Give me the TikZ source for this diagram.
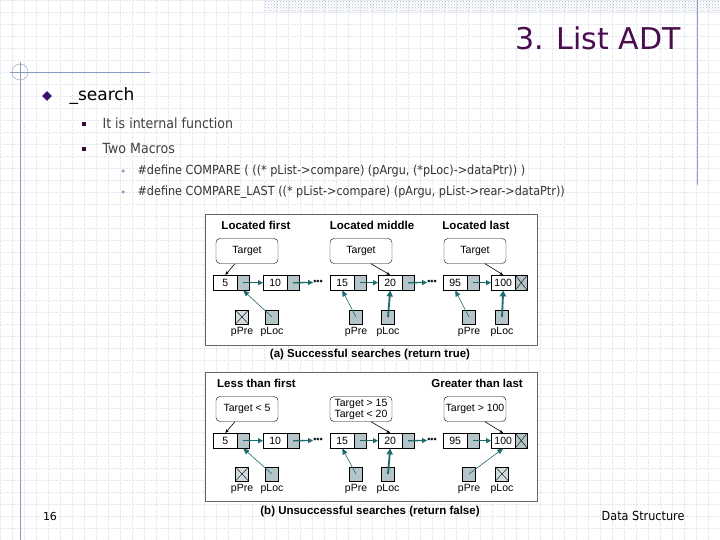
\documentclass[tikz,border=0pt]{standalone}
\usepackage{fontspec}
\setmainfont{DejaVu Sans}
\newfontfamily\figfont{Liberation Sans}
\usetikzlibrary{patterns,arrows.meta}
\definecolor{tealc}{HTML}{1E6B6E}
\definecolor{linkc}{HTML}{B4C4C8}
\definecolor{titlec}{HTML}{4A0E4E}
\definecolor{gridc}{HTML}{E6EAF0}
\definecolor{linec}{HTML}{8A9BC0}
\tikzset{
 dbox/.style={draw,fill=white,minimum width=24pt,minimum height=15pt,inner sep=0,anchor=north west,font=\figfont\fontsize{10.5}{10}\selectfont},
 lbox/.style={draw,fill=linkc,minimum width=12pt,minimum height=15pt,inner sep=0,anchor=north west},
 pbox/.style={draw,fill=linkc,minimum width=13pt,minimum height=14pt,inner sep=0},
 xmark/.style={path picture={\draw (path picture bounding box.north west)--(path picture bounding box.south east) (path picture bounding box.south west)--(path picture bounding box.north east);}},
 plab/.style={font=\figfont\fontsize{10.5}{10}\selectfont,inner sep=0},
 callout/.style={draw,rounded corners=4pt,fill=white,minimum width=62pt,minimum height=25pt,align=center,font=\figfont\fontsize{10.5}{11}\selectfont,inner sep=1pt},
 nextarr/.style={tealc,line width=1.3pt,-{Triangle[length=5pt,width=5pt]}},
 ptrthin/.style={tealc,line width=0.6pt,-{Triangle[length=6pt,width=5pt]}},
 ptrthick/.style={tealc,line width=1.8pt,-{Triangle[length=6pt,width=6pt]}},
 tailarr/.style={line width=0.6pt,-{Stealth[length=4pt]}},
 hdr/.style={font=\figfont\bfseries\fontsize{11.5}{11}\selectfont,inner sep=0},
 dotsty/.style={font=\figfont\bfseries\fontsize{9}{9}\selectfont,inner sep=0,tealc!30!black},
 captext/.style={font=\figfont\bfseries\fontsize{11.5}{11}\selectfont,inner sep=0},
 bul/.style={inner sep=0}
}
\newcommand\listrow[2]{%
 \foreach \i/\x/\v in {1/213/5,2/263/10,3/330/15,4/378/20,5/443/95,6/491/100}{
  \node[dbox] (#1d\i) at (\x,#2) {\v};
  \node[lbox] (#1l\i) at (\x+24,#2) {};
 }
 \node[lbox,xmark] at (515,#2) {};
 \node[dotsty] (#1dotA) at (318,#2+7.5) {•••};
 \node[dotsty] (#1dotB) at (432,#2+7.5) {•••};
 \draw[nextarr] (#1l1.center) -- (#1d2.west);
 \draw[nextarr] (#1l3.center) -- (#1d4.west);
 \draw[nextarr] (#1l5.center) -- (#1d6.west);
 \draw[nextarr] (#1l2.center) -- (#1dotA.west);
 \draw[nextarr] (#1l4.center) -- (#1dotB.west);
}
\begin{document}
\begin{tikzpicture}[x=1pt,y=-1pt]
\useasboundingbox (0,0) rectangle (720,540);
\fill[white] (0,0) rectangle (720,540);
\foreach \gx in {0,12,...,720}{\draw[gridc,line width=0.4pt,densely dotted] (\gx,0) -- (\gx,540);}
\foreach \gy in {0,12,...,540}{\draw[gridc,line width=0.4pt,densely dotted] (0,\gy) -- (720,\gy);}
\fill[pattern=crosshatch dots,pattern color=linec!70] (265,0) rectangle (720,13);
\draw[linec] (697,0) -- (697,185);
\draw[linec] (10,72) -- (150,72);
\draw[linec] (20,62) -- (20,540);
\draw[linec] (20,72) circle[radius=8];
\node[anchor=east,text=titlec,font=\fontsize{30}{30}\selectfont] (title) at (684,38) {3. List ADT};
\node[bul,fill=titlec!80!blue,draw=linec,rotate=45,minimum size=7pt] (b0) at (47,96) {};
\node[anchor=west,font=\fontsize{17}{17}\selectfont] (t0) at (66,96) {\_search};
\node[bul,fill=titlec!70!black,minimum size=4pt] (b1) at (84,124) {};
\node[anchor=west,text=black!75,font=\fontsize{14}{14}\selectfont\addfontfeature{FakeStretch=0.9}] (t1) at (99,123) {It is internal function};
\node[bul,fill=titlec!70!black,minimum size=4pt] (b2) at (84,149) {};
\node[anchor=west,text=black!75,font=\fontsize{14}{14}\selectfont\addfontfeature{FakeStretch=0.9}] (t2) at (99,148) {Two Macros};
\node[bul,circle,fill=linec,minimum size=3.5pt] (b3) at (123,171) {};
\node[anchor=west,text=black!80,font=\fontsize{12.5}{13}\selectfont\addfontfeature{FakeStretch=0.9}] (t3) at (134,171) {\#define COMPARE ( ((* pList->compare) (pArgu, (*pLoc)->dataPtr)) )};
\node[bul,circle,fill=linec,minimum size=3.5pt] (b4) at (123,192) {};
\node[anchor=west,text=black!80,font=\fontsize{12.5}{13}\selectfont\addfontfeature{FakeStretch=0.9}] (t4) at (134,192) {\#define COMPARE\_LAST ((* pList->compare) (pArgu, pList->rear->dataPtr))};
\node[font=\fontsize{11}{11}\selectfont] (pg) at (50,516) {16};
\node[anchor=east,font=\fontsize{12.5}{12}\selectfont\addfontfeature{FakeStretch=0.9}] (ds) at (688,516) {Data Structure};
% panel a
\node[draw=black!60,fill=white,minimum width=332pt,minimum height=131pt,anchor=north west,line width=0.8pt] (pa) at (205,214) {};
\node[hdr] (ha1) at (256,225) {Located first};
\node[hdr] (ha2) at (372,225) {Located middle};
\node[hdr] (ha3) at (476,225) {Located last};
\node[callout] (ca1) at (247,251) {Target};
\node[callout] (ca2) at (361,251) {Target};
\node[callout] (ca3) at (475,251) {Target};
\listrow{a}{275}
\draw[tailarr] (ca1.south) ++(-12,0) -- (ad1.north);
\draw[tailarr] (ca2.south) ++(10,0) -- (ad4.north);
\draw[tailarr] (ca3.south) ++(10,0) -- (ad6.north);
\node[pbox,fill=linkc!60,xmark] (apre1) at (242,317) {};
\node[pbox] (aloc1) at (272,317) {};
\node[pbox] (apre2) at (356,317) {};
\node[pbox] (aloc2) at (388,317) {};
\node[pbox] (apre3) at (469,317) {};
\node[pbox] (aloc3) at (502,317) {};
\foreach \p/\lab in {apre1/pPre,aloc1/pLoc,apre2/pPre,aloc2/pLoc,apre3/pPre,aloc3/pLoc}{\node[plab] at (\p.south) [yshift=-8pt] {\lab};}
\draw[ptrthin] (aloc1.center) -- (al1.south);
\draw[ptrthin] (apre2.center) -- (ad3.south);
\draw[ptrthick] (aloc2.center) -- (ad4.south);
\draw[ptrthin] (apre3.center) -- (ad5.south);
\draw[ptrthick] (aloc3.center) -- (ad6.south);
\node[captext] (capa) at (370,355) {(a) Successful searches (return true)};
% panel b
\node[draw=black!60,fill=white,minimum width=332pt,minimum height=129pt,anchor=north west,line width=0.8pt] (pb) at (205,372) {};
\node[hdr,anchor=west] (hb1) at (217,383) {Less than first};
\node[hdr,anchor=east] (hb2) at (523,383) {Greater than last};
\node[callout] (cb1) at (247,409) {Target < 5};
\node[callout] (cb2) at (361,409) {Target > 15\\Target < 20};
\node[callout] (cb3) at (475,409) {Target > 100};
\listrow{b}{433}
\draw[tailarr] (cb1.south) ++(-12,0) -- (bd1.north);
\draw[tailarr] (cb2.south) ++(10,0) -- (bd4.north);
\draw[tailarr] (cb3.south) ++(10,0) -- (bd6.north);
\node[pbox,fill=linkc!60,xmark] (bpre1) at (242,474) {};
\node[pbox] (bloc1) at (272,474) {};
\node[pbox] (bpre2) at (356,474) {};
\node[pbox] (bloc2) at (388,474) {};
\node[pbox] (bpre3) at (469,474) {};
\node[pbox,fill=linkc!60,xmark] (bloc3) at (502,474) {};
\foreach \p/\lab in {bpre1/pPre,bloc1/pLoc,bpre2/pPre,bloc2/pLoc,bpre3/pPre,bloc3/pLoc}{\node[plab] at (\p.south) [yshift=-8pt] {\lab};}
\draw[ptrthin] (bloc1.center) -- (bl1.south);
\draw[ptrthin] (bpre2.center) -- (bd3.south);
\draw[ptrthick] (bloc2.center) -- (bd4.south);
\draw[ptrthin] (bpre3.center) -- (bd6.south);
\node[captext] (capb) at (370,512) {(b) Unsuccessful searches (return false)};
\end{tikzpicture}
\end{document}
